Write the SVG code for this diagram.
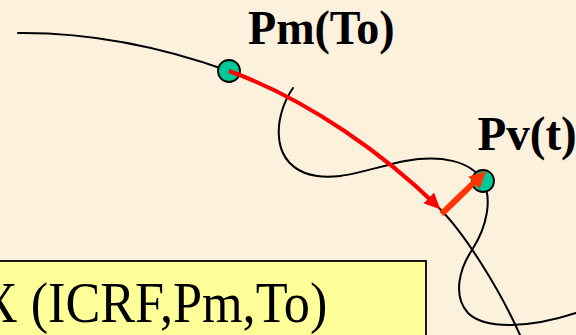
<svg xmlns="http://www.w3.org/2000/svg" width="576" height="335" viewBox="0 0 576 335">
  <defs>
    <style>
      .traj { fill: none; stroke: #000; stroke-width: 2; stroke-linecap: round; }
      .pt { fill: #00C896; stroke: #000; stroke-width: 1.8; }
      .lbl { font-family: "Liberation Serif", "Times New Roman", serif; font-weight: bold; font-size: 48px; fill: #000; }
      .formula { font-family: "Liberation Serif", "Times New Roman", serif; font-size: 58px; fill: #000; }
    </style>
    <marker id="headRed" markerUnits="userSpaceOnUse" markerWidth="16" markerHeight="15" refX="10" refY="7.5" orient="auto">
      <path d="M0,0 L16,7.5 L0,15 z" fill="#FF0000"/>
    </marker>
    <marker id="headOrange" markerUnits="userSpaceOnUse" markerWidth="17" markerHeight="17" refX="11" refY="8.5" orient="auto">
      <path d="M0,0 L17,8.5 L0,17 z" fill="#FF3300"/>
    </marker>
  </defs>

  <rect x="0" y="0" width="576" height="335" fill="#FBF1DC"/>

  <g id="trajectories">
    <path class="traj" d="M18,33 Q120,32 229,71 C310,100 390,160 440,209 C465,234 500,290 520,335"/>
    <path class="traj" d="M293,88 C276,112 268,158 305,173 C335,184 370,168 405,161 C440,155 470,160 483,181 C492,198 488,225 472,250 C460,268 452,295 468,313 C485,330 530,328 576,313"/>
  </g>

  <g id="formula-box">
    <rect x="-5" y="261" width="431" height="80" fill="#FFFF99" stroke="#000" stroke-width="1.8"/>
    <text class="formula" transform="translate(-20,322) scale(0.9,1)">X (ICRF,Pm,To)</text>
  </g>

  <g id="pm">
    <circle class="pt" cx="229" cy="71" r="11"/>
    <text class="lbl" transform="translate(248,44) scale(0.96,1)">Pm(To)</text>
  </g>

  <g id="pv">
    <circle class="pt" cx="483" cy="181" r="11"/>
    <text class="lbl" transform="translate(477.5,150) scale(0.98,1)">Pv(t)</text>
  </g>

  <g id="connectors">
    <path d="M229,71 C310,100 388,158 436,205" fill="none" stroke="#FF0000" stroke-width="4" marker-end="url(#headRed)"/>
    <path d="M441.5,214 L481.7,175.2" fill="none" stroke="#FF3300" stroke-width="6" marker-end="url(#headOrange)"/>
  </g>
</svg>
